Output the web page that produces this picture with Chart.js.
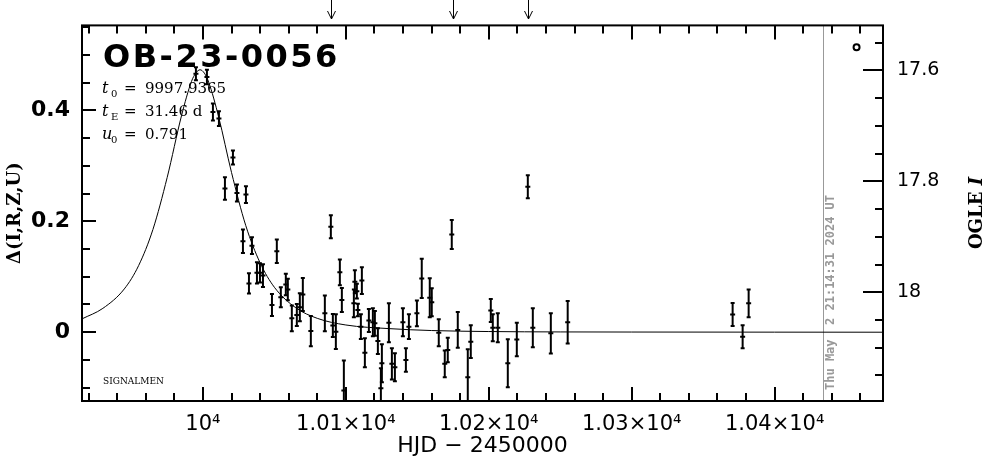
<!DOCTYPE html>
<html><head><meta charset="utf-8">
<script src="https://cdn.jsdelivr.net/npm/chart.js@4.4.1/dist/chart.umd.min.js"></script>
<style>html,body{margin:0;padding:0;background:#fff;}canvas{display:block;}</style>
</head><body>
<canvas id="c" width="986" height="459"></canvas>
<script>
// ---- data ----
const eventName = "OB-23-0056";
const paramNames = ["t", "t", "u"];
const paramSubs = ["0", "E", "0"];
const paramValues = ["9997.9365", "31.46 d", "0.791"];
const hjd = [9995.1,10002.8,10007.0,10011.2,10015.4,10021.0,10023.8,10028.0,10030.1,10032.2,10034.3,10037.8,10039.9,10042.0,10048.3,10051.7,10054.5,10058.0,10059.4,10062.2,10065.7,10067.8,10069.9,10075.5,10085.3,10089.5,10090.9,10093.0,10095.8,10097.2,10098.6,10105.6,10106.3,10107.7,10108.4,10110.5,10111.2,10113.3,10116.1,10118.9,10120.3,10122.4,10124.5,10125.2,10130.1,10132.2,10134.3,10139.9,10142.0,10144.1,10149.7,10153.1,10158.7,10160.1,10165.0,10169.2,10171.3,10174.1,10178.3,10185.3,10187.4,10201.4,10202.8,10206.3,10213.3,10219.6,10227.3,10230.8,10243.4,10255.2,10370.6,10377.6,10381.8];
const delta = [0.466,0.460,0.397,0.385,0.259,0.315,0.251,0.164,0.248,0.088,0.156,0.107,0.107,0.102,0.049,0.146,0.063,0.086,0.077,0.025,0.031,0.045,0.068,0.002,0.034,0.190,0.012,0.001,0.108,0.058,-0.105,0.052,0.091,0.074,0.040,0.010,0.093,-0.037,0.021,0.018,0.016,-0.016,-0.101,-0.056,0.017,-0.057,-0.063,0.018,-0.050,0.010,0.034,0.097,0.062,0.054,-0.001,-0.057,-0.032,0.176,0.004,-0.081,-0.017,0.039,0.008,0.008,-0.056,-0.013,0.262,0.008,-0.002,0.018,0.032,-0.008,0.052];
const deltaErr = [0.0135,0.015,0.017,0.015,0.022,0.0145,0.017,0.023,0.017,0.020,0.017,0.021,0.019,0.0225,0.0215,0.023,0.020,0.021,0.021,0.025,0.0215,0.027,0.0315,0.029,0.034,0.0225,0.0225,0.033,0.025,0.0235,0.056,0.027,0.0225,0.015,0.013,0.024,0.026,0.028,0.0225,0.027,0.024,0.025,0.038,0.036,0.037,0.030,0.027,0.027,0.023,0.024,0.025,0.037,0.037,0.027,0.026,0.026,0.024,0.028,0.034,0.052,0.0315,0.0225,0.026,0.028,0.045,0.032,0.0225,0.037,0.038,0.040,0.0225,0.0225,0.027];
const modelHjd = [9915.4,9930,9945,9955,9965,9975,9985,9992,9995,9998,10001,10004,10011,10020,10030,10040,10050,10065,10080,10100,10130,10160,10200,10250,10300,10400,10475.8];
const modelDelta = [0.024,0.043,0.078,0.120,0.185,0.279,0.390,0.452,0.467,0.473,0.467,0.451,0.388,0.288,0.192,0.125,0.081,0.044,0.025,0.013,0.0065,0.003,0.0012,0.0005,0.0003,0.0001,0];
const xTickValues = [10000,10100,10200,10300,10400];
const xTickLabels = ["10⁴","1.01×10⁴","1.02×10⁴","1.03×10⁴","1.04×10⁴"];
const yTickValues = [0,0.2,0.4];
const yTickLabels = ["0","0.2","0.4"];
const magTickValues = [17.6,17.8,18];
const magTickLabels = ["17.6","17.8","18"];
const outlierHjd = [10089.5,10174.8,10227.3];
const stampHjd = 10433.8;
const stampText = "Thu May  2 21:14:31 2024 UT";
const legendX = [10457.3];
const legendY = [0.5135];
const xRange = [9915.4, 10475.8];
const yRange = [-0.124, 0.553];
const baselineMag = 18.072;

// ---- drawing helpers ----
const overlay = {
  id: 'overlay',
  beforeDatasetsDraw(chart) {
    const ctx = chart.ctx;
    ctx.save();
    ctx.fillStyle = '#000';
    ctx.font = 'bold 32px "DejaVu Sans"';
    ctx.textBaseline = 'alphabetic';
    ctx.textAlign = 'left';
    try { ctx.letterSpacing = '2.5px'; } catch (e) {}
    ctx.fillText(eventName, 103, 67);
    try { ctx.letterSpacing = '0px'; } catch (e) {}
    const bases = [93, 116, 139];
    for (let i = 0; i < 3; i++) {
      ctx.font = 'italic 16px "DejaVu Serif"';
      ctx.fillText(paramNames[i], 102, bases[i]);
      ctx.font = '10px "DejaVu Serif"';
      ctx.fillText(paramSubs[i], 111, bases[i] + 4);
      ctx.font = '15px "DejaVu Serif"';
      ctx.fillText('=', 124, bases[i]);
      ctx.fillText(paramValues[i], 145, bases[i]);
    }
    ctx.font = '9px "DejaVu Serif"';
    ctx.fillText('SIGNALMEN', 103, 384);
    // stamp line
    const xs = chart.scales.x;
    const area = chart.chartArea;
    const sx = Math.round(xs.getPixelForValue(stampHjd)) + 0.5;
    ctx.strokeStyle = '#999';
    ctx.lineWidth = 1;
    ctx.beginPath(); ctx.moveTo(sx, area.top); ctx.lineTo(sx, area.bottom); ctx.stroke();
    ctx.save();
    ctx.translate(sx + 7, 390);
    ctx.rotate(-Math.PI / 2);
    ctx.fillStyle = '#999';
    ctx.font = 'bold 12px "DejaVu Sans Mono"';
    ctx.textBaseline = 'middle';
    ctx.fillText(stampText, 0, 0);
    ctx.restore();
    ctx.restore();
  },
  afterDatasetsDraw(chart) {
    const ctx = chart.ctx;
    const xs = chart.scales.x, ys = chart.scales.y, ms = chart.scales.y2;
    const area = chart.chartArea;
    ctx.save();
    // error bars
    ctx.beginPath();
    ctx.rect(area.left, area.top, area.right - area.left, area.bottom - area.top);
    ctx.clip();
    ctx.strokeStyle = '#000';
    ctx.lineWidth = 2;
    hjd.forEach((t, i) => {
      const px = xs.getPixelForValue(t);
      const top = ys.getPixelForValue(delta[i] + deltaErr[i]);
      const bot = ys.getPixelForValue(delta[i] - deltaErr[i]);
      ctx.beginPath();
      ctx.moveTo(px, top); ctx.lineTo(px, bot);
      ctx.moveTo(px - 2, top + 1); ctx.lineTo(px + 2, top + 1);
      ctx.moveTo(px - 2, bot - 1); ctx.lineTo(px + 2, bot - 1);
      ctx.stroke();
    });
    ctx.restore();
    ctx.save();
    ctx.strokeStyle = '#000';
    ctx.lineWidth = 2;
    // frame
    ctx.strokeRect(area.left, area.top, area.right - area.left, area.bottom - area.top);
    // x ticks (bottom + top)
    ctx.beginPath();
    for (let v = 9920; v <= 10470; v += 20) {
      const px = Math.round(xs.getPixelForValue(v));
      const len = (v % 100 === 0) ? 14 : 8;
      ctx.moveTo(px, area.bottom); ctx.lineTo(px, area.bottom - len);
      ctx.moveTo(px, area.top); ctx.lineTo(px, area.top + len);
    }
    // left ticks
    for (let k = -2; k <= 11; k++) {
      const py = Math.round(ys.getPixelForValue(k * 0.05));
      const len = (k % 4 === 0) ? 14 : 8;
      ctx.moveTo(area.left, py); ctx.lineTo(area.left + len, py);
    }
    // right ticks (magnitudes)
    for (let k = 351; k <= 363; k++) {
      const py = Math.round(ms.getPixelForValue(k / 20));
      const len = (k % 4 === 0) ? 20 : 8;
      ctx.moveTo(area.right, py); ctx.lineTo(area.right - len, py);
    }
    ctx.stroke();
    // outlier arrows
    ctx.lineWidth = 1;
    ctx.beginPath();
    outlierHjd.forEach(t => {
      const px = Math.round(xs.getPixelForValue(t)) + 0.5;
      ctx.moveTo(px, 0); ctx.lineTo(px, 19);
      ctx.moveTo(px - 4, 11); ctx.lineTo(px, 19); ctx.lineTo(px + 4, 11);
    });
    ctx.stroke();
    // right axis title
    ctx.save();
    ctx.translate(977, 213);
    ctx.rotate(-Math.PI / 2);
    ctx.fillStyle = '#000';
    ctx.textBaseline = 'middle';
    ctx.font = 'bold 18px "DejaVu Serif"';
    const w1 = ctx.measureText('OGLE ').width;
    ctx.font = 'bold italic 18px "DejaVu Serif"';
    const w2 = ctx.measureText('I').width;
    const start = -(w1 + w2) / 2;
    ctx.font = 'bold 18px "DejaVu Serif"';
    ctx.fillText('OGLE ', start, 0);
    ctx.font = 'bold italic 18px "DejaVu Serif"';
    ctx.fillText('I', start + w1, 0);
    ctx.restore();
    ctx.restore();
  }
};

const ctx = document.getElementById('c').getContext('2d');
new Chart(ctx, {
  type: 'scatter',
  data: {
    datasets: [
      {
        data: modelHjd.map((x, i) => ({ x: x, y: modelDelta[i] })),
        showLine: true, borderColor: '#000', borderWidth: 1, pointRadius: 0,
        fill: false, cubicInterpolationMode: 'monotone'
      },
      {
        data: hjd.map((x, i) => ({ x: x, y: delta[i] })),
        pointStyle: 'line', pointRadius: 2.5, borderColor: '#000', borderWidth: 2,
        backgroundColor: '#000'
      },
      {
        data: legendX.map((x, i) => ({ x: x, y: legendY[i] })),
        pointStyle: 'circle', pointRadius: 3, borderColor: '#000', borderWidth: 2,
        backgroundColor: '#fff'
      }
    ]
  },
  options: {
    responsive: false, animation: false, events: [],
    layout: { padding: { top: 25, left: 0, right: 0, bottom: 0 } },
    plugins: { legend: { display: false }, tooltip: { enabled: false } },
    scales: {
      x: {
        type: 'linear', position: 'bottom', min: xRange[0], max: xRange[1],
        afterBuildTicks: s => { s.ticks = xTickValues.map(v => ({ value: v })); },
        ticks: {
          callback: (v, i) => xTickLabels[i], autoSkip: false, maxRotation: 0,
          font: { family: 'DejaVu Sans', size: 21 }, color: '#000', padding: 11
        },
        grid: { display: false, drawTicks: false }, border: { display: false },
        title: { display: true, text: 'HJD − 2450000', color: '#000',
          font: { family: 'DejaVu Sans', size: 22 }, padding: { top: 0, bottom: 0 } },
        afterFit: s => { s.height = 58; }
      },
      y: {
        type: 'linear', position: 'left', min: yRange[0], max: yRange[1],
        afterBuildTicks: s => { s.ticks = yTickValues.map(v => ({ value: v })); },
        ticks: {
          callback: (v, i) => yTickLabels[i], autoSkip: false,
          font: { family: 'DejaVu Sans', size: 22, weight: 'bold' }, color: '#000', padding: 12
        },
        grid: { display: false, drawTicks: false }, border: { display: false },
        title: { display: true, text: 'Δ(I,R,Z,U)', color: '#000',
          font: { family: 'DejaVu Serif', size: 18, weight: 'bold' }, padding: { top: 5, bottom: 0 } },
        afterFit: s => { s.width = 82; }
      },
      y2: {
        type: 'linear', position: 'right', reverse: true,
        min: baselineMag - yRange[1], max: baselineMag - yRange[0],
        afterBuildTicks: s => { s.ticks = magTickValues.map(v => ({ value: v })); },
        ticks: {
          callback: (v, i) => magTickLabels[i], autoSkip: false,
          font: { family: 'DejaVu Sans', size: 19 }, color: '#000', padding: 14
        },
        grid: { display: false, drawTicks: false }, border: { display: false },
        title: { display: false },
        afterFit: s => { s.width = 103; }
      }
    }
  },
  plugins: [overlay]
});
</script>
</body></html>
